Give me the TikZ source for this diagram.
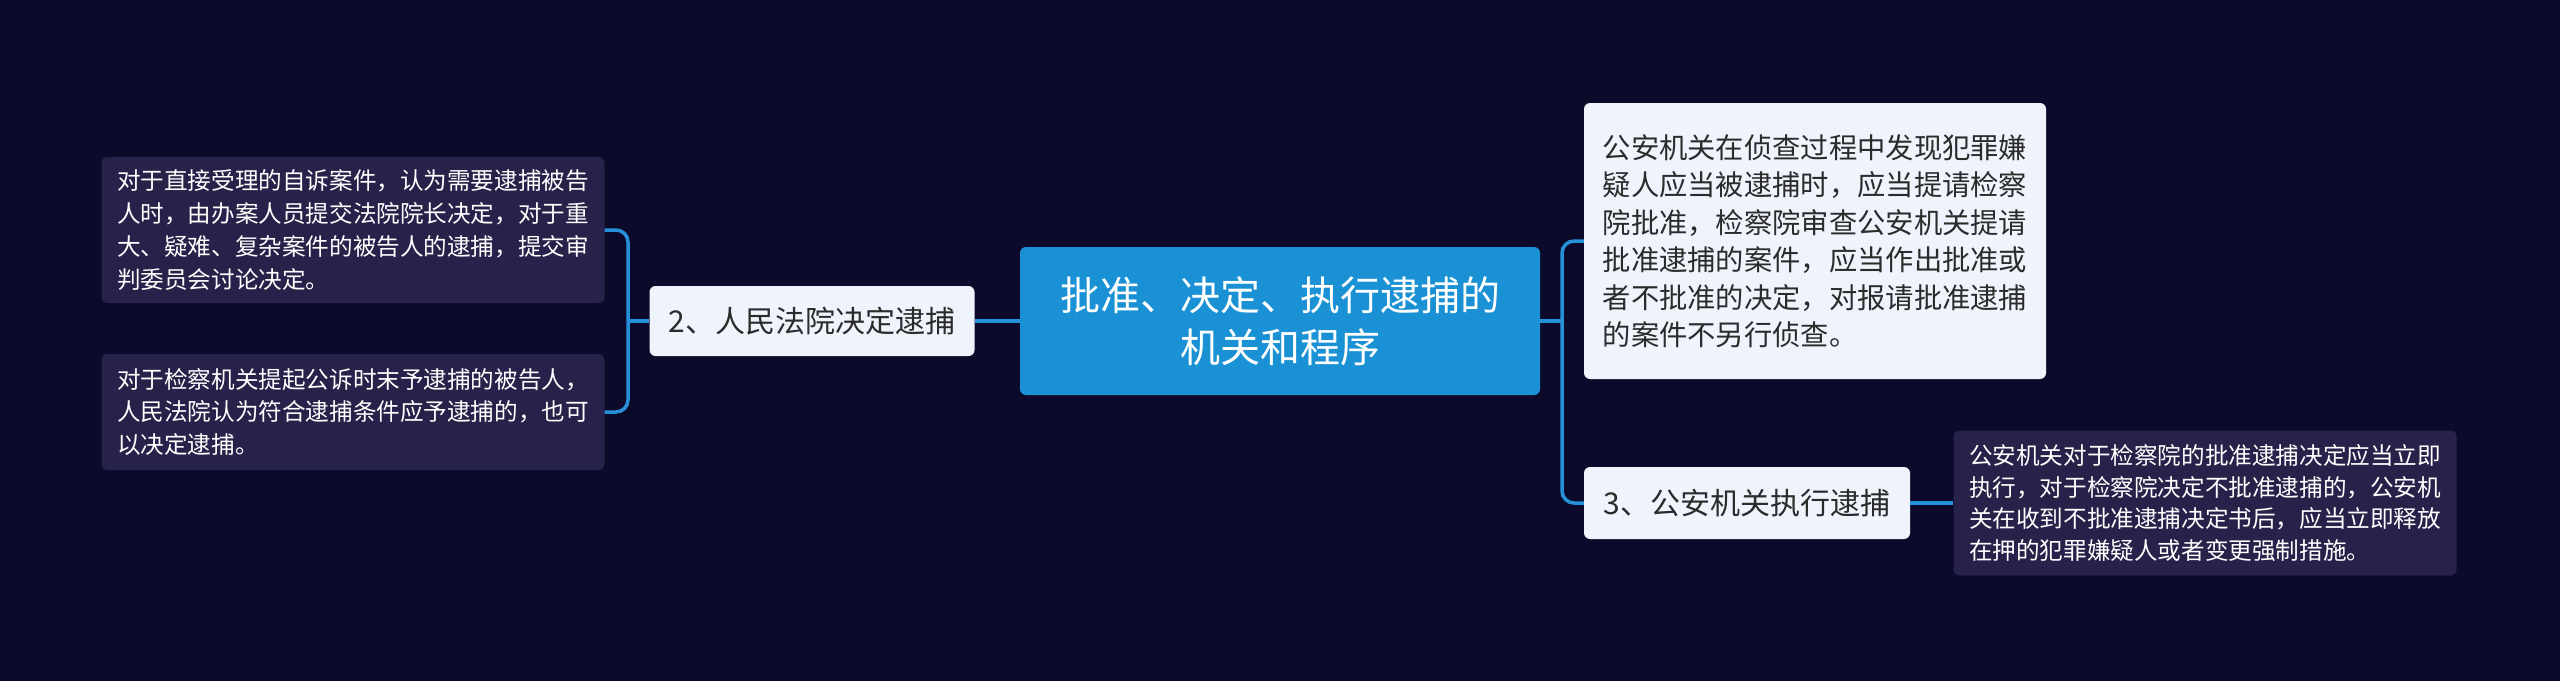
\documentclass[tikz,border=0pt]{standalone}
\usepackage{fontspec}
\setmainfont{Noto Sans CJK SC}
\definecolor{bg}{HTML}{0C0A2B}
\definecolor{rootc}{HTML}{1A91D4}
\definecolor{lightc}{HTML}{EEF3FC}
\definecolor{darkc}{HTML}{262249}
\definecolor{linec}{HTML}{2690D8}
\definecolor{txtd}{HTML}{2B2B2B}
\tikzset{
  rootbox/.style={fill=rootc, rounded corners=6pt, text=white, align=center, inner sep=0pt},
  lightbox/.style={fill=lightc, rounded corners=6pt, text=txtd, align=left, inner sep=0pt},
  darkbox/.style={fill=darkc, rounded corners=6pt, text=white, align=left, inner sep=0pt},
  conn/.style={draw=linec, line width=3.5pt},
}
\begin{document}
\begin{tikzpicture}[x=1pt,y=-1pt]
\fill[bg] (0,0) rectangle (2560,681);
\useasboundingbox (0,0) rectangle (2560,681);

\node[rootbox, minimum width=520pt, minimum height=148pt, font=\fontsize{40}{52}\selectfont] (root) at (1280,321) {批准、决定、执行逮捕的\\机关和程序};

\node[lightbox, minimum width=325pt, minimum height=70pt, font=\fontsize{30}{36}\selectfont] (n2) at (812,321) {2、人民法院决定逮捕};
\node[lightbox, minimum width=326pt, minimum height=72pt, font=\fontsize{30}{36}\selectfont] (n3) at (1747,503) {3、公安机关执行逮捕};

\node[darkbox, minimum width=503pt, minimum height=146pt, font=\fontsize{23.6}{32.7}\selectfont] (lb1) at (353,230) {对于直接受理的自诉案件，认为需要逮捕被告\\人时，由办案人员提交法院院长决定，对于重\\大、疑难、复杂案件的被告人的逮捕，提交审\\判委员会讨论决定。};
\node[darkbox, minimum width=503pt, minimum height=116pt, font=\fontsize{23.6}{32.7}\selectfont] (lb2) at (353,412) {对于检察机关提起公诉时末予逮捕的被告人，\\人民法院认为符合逮捕条件应予逮捕的，也可\\以决定逮捕。};

\node[lightbox, minimum width=462pt, minimum height=276pt, font=\fontsize{28.3}{37.5}\selectfont] (rb1) at (1815,241) {公安机关在侦查过程中发现犯罪嫌\\疑人应当被逮捕时，应当提请检察\\院批准，检察院审查公安机关提请\\批准逮捕的案件，应当作出批准或\\者不批准的决定，对报请批准逮捕\\的案件不另行侦查。};
\node[darkbox, minimum width=503pt, minimum height=145pt, font=\fontsize{23.6}{31.5}\selectfont] (rb2) at (2205,503) {公安机关对于检察院的批准逮捕决定应当立即\\执行，对于检察院决定不批准逮捕的，公安机\\关在收到不批准逮捕决定书后，应当立即释放\\在押的犯罪嫌疑人或者变更强制措施。};

\coordinate (sl) at (628,321);
\coordinate (sr) at (1562,321);

\draw[conn] (root.west) -- (n2.east);
\draw[conn] (n2.west) -- (sl);
\draw[conn, rounded corners=12pt] (lb1.east) -| (sl) |- (lb2.east);

\draw[conn] (root.east) -- (sr);
\draw[conn, rounded corners=12pt] (rb1.west) -| (sr) |- (n3.west);
\draw[conn] (n3.east) -- (rb2.west);
\end{tikzpicture}
\end{document}
